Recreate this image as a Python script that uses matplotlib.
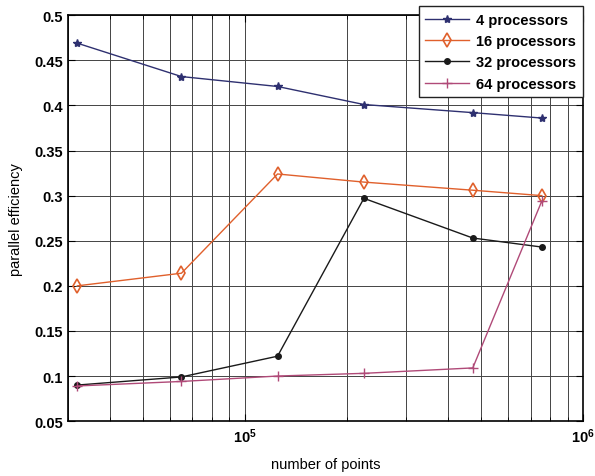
import matplotlib
matplotlib.use("Agg")
import matplotlib.pyplot as plt
from matplotlib.ticker import LogLocator, NullFormatter

plt.rcParams["font.family"] = ["Liberation Sans", "DejaVu Sans"]

# number of points per run
n_points = [32000, 65000, 125000, 225000, 472000, 755000]

eff_4 = [0.469, 0.432, 0.421, 0.401, 0.392, 0.386]
eff_16 = [0.200, 0.214, 0.324, 0.315, 0.306, 0.300]
eff_32 = [0.090, 0.099, 0.122, 0.297, 0.253, 0.243]
eff_64 = [0.089, 0.094, 0.100, 0.103, 0.109, 0.294]

labels = ["4 processors", "16 processors", "32 processors", "64 processors"]


def main():
    fig = plt.figure(figsize=(5.95, 4.77), dpi=100)
    ax = fig.add_axes([0.114, 0.115, 0.866, 0.851])

    ax.plot(n_points, eff_4, color="#2e3070", marker="*", markersize=6, lw=1.0, label=labels[0])
    ax.plot(n_points, eff_16, color="#e0602c", marker="d", markersize=7, mfc="none",
            mew=1.2, lw=1.0, label=labels[1])
    ax.plot(n_points, eff_32, color="#1a1a1a", marker=".", markersize=8, lw=1.0, label=labels[2])
    ax.plot(n_points, eff_64, color="#b04a78", marker="+", markersize=7, lw=1.0, label=labels[3])

    ax.set_xscale("log")
    ax.set_xlim(3e4, 1e6)
    ax.set_ylim(0.05, 0.5)
    ax.set_yticks([0.05, 0.1, 0.15, 0.2, 0.25, 0.3, 0.35, 0.4, 0.45, 0.5])
    ax.set_yticklabels(["0.05", "0.1", "0.15", "0.2", "0.25", "0.3", "0.35", "0.4", "0.45", "0.5"])
    ax.xaxis.set_minor_locator(LogLocator(base=10, subs=range(2, 10)))
    ax.xaxis.set_minor_formatter(NullFormatter())

    ax.grid(True, which="major", color="#444444", lw=0.7)
    ax.grid(True, which="minor", axis="x", color="#444444", lw=0.7)
    ax.tick_params(which="both", direction="in", top=True, right=True, labelsize=10.5)
    ax.tick_params(which="major", length=5)
    ax.tick_params(which="minor", length=3)
    for lbl in ax.get_xticklabels() + ax.get_yticklabels():
        lbl.set_fontweight("bold")
    for sp in ax.spines.values():
        sp.set_linewidth(1.2)

    ax.set_xlabel("number of points", fontsize=10.5, labelpad=9)
    ax.set_ylabel("parallel efficiency", fontsize=10.5, labelpad=8)

    leg = ax.legend(loc="upper right", bbox_to_anchor=(1.0, 1.022), borderaxespad=0,
                    prop={"size": 10.5, "weight": "bold"},
                    fancybox=False, framealpha=1, edgecolor="#222222",
                    handlelength=3.0, handletextpad=0.5, borderpad=0.45,
                    labelspacing=0.5)
    leg.get_frame().set_linewidth(1.0)

    fig.savefig("out.png", dpi=100)
    plt.close(fig)


if __name__ == "__main__":
    main()
